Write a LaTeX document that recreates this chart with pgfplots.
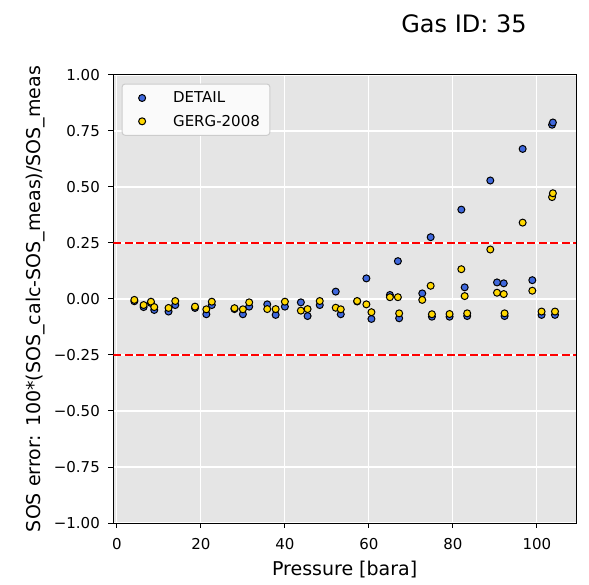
\documentclass[border=0pt]{standalone}
\usepackage{fontspec}
\setmainfont{DejaVu Sans}
\usepackage{pgfplots}
\pgfplotsset{compat=1.18}
\definecolor{bgc}{HTML}{E5E5E5}
\definecolor{detailc}{HTML}{3F68DC}
\definecolor{gergc}{HTML}{FFD700}
\definecolor{legedge}{HTML}{CCCCCC}
\definecolor{legfill}{HTML}{FAFAFA}
\begin{document}
\begin{tikzpicture}
\path[use as bounding box] (-113.3bp,-62bp) rectangle (475.7bp,523bp);
\begin{axis}[
  name=ax,
  scale only axis, width=462.7bp, height=448bp,
  xmin=-0.85, xmax=109.3, ymin=-1, ymax=1,
  axis background/.style={fill=bgc},
  grid=major, grid style={white, line width=1.1bp},
  axis line style={black, line width=1bp},
  tick align=outside, tick pos=left, major tick length=4.9bp,
  tick style={black, line width=1bp},
  xtick={0,20,40,60,80,100},
  xticklabels={0,20,40,60,80,100},
  ytick={-1,-0.75,-0.5,-0.25,0,0.25,0.5,0.75,1},
  yticklabels={−1.00,−0.75,−0.50,−0.25,0.00,0.25,0.50,0.75,1.00},
  ticklabel style={font=\fontsize{15bp}{18bp}\selectfont, inner sep=0pt},
  xticklabel style={anchor=north, yshift=-10.4bp},
  yticklabel style={anchor=east, xshift=-8.4bp},
  xlabel={Pressure [bara]},
  ylabel={SOS error: 100*(SOS\_calc-SOS\_meas)/SOS\_meas},
  every axis x label/.style={at={(axis description cs:0.5,0)}, anchor=base, yshift=-52bp, font=\fontsize{19bp}{23bp}\selectfont},
  every axis y label/.style={at={(axis description cs:-0.1584,0.5)}, rotate=90, anchor=base, font=\fontsize{19bp}{23bp}\selectfont},
  legend style={at={(0.018,0.981)}, anchor=north west, draw=legedge, fill=legfill,
    rounded corners=3bp, line width=1bp, inner xsep=10bp, inner ysep=6bp,
    row sep=7.3bp, column sep=21bp, font=\fontsize{15bp}{18bp}\selectfont,
    nodes={inner sep=0pt}},
  legend cell align=left,
  legend image code/.code={\path[draw=none, fill=none] (0bp,-8bp) rectangle (20bp,8bp); \draw[#1] plot coordinates {(10bp,0bp)};},
]
\addplot[only marks, mark=*, mark size=3.5bp, mark options={draw=black, fill=detailc, line width=1bp}] coordinates {
(4.16,-0.010) (6.37,-0.036) (8.12,-0.018) (8.9,-0.049) (12.3,-0.056) (13.9,-0.027)
(18.6,-0.040) (21.3,-0.068) (22.6,-0.027) (28.0,-0.045) (30.0,-0.068) (31.5,-0.034)
(35.8,-0.024) (37.8,-0.071) (40.0,-0.034) (43.8,-0.015) (45.4,-0.076) (48.3,-0.027)
(52.1,0.033) (53.3,-0.068) (57.2,-0.011) (59.4,0.092) (60.6,-0.089) (65.0,0.018)
(66.9,0.169) (67.2,-0.086) (72.7,0.025) (74.7,0.276) (75.0,-0.079) (79.2,-0.079)
(82.0,0.399) (82.8,0.052) (83.4,-0.076) (88.9,0.529) (90.5,0.074) (92.1,0.070)
(92.3,-0.076) (96.6,0.670) (98.9,0.084) (101.1,-0.071) (103.6,0.778) (103.8,0.788)
(104.3,-0.071)
};
\addlegendentry{DETAIL}
\addplot[only marks, mark=*, mark size=3.5bp, mark options={draw=black, fill=gergc, line width=1bp}] coordinates {
(4.16,-0.004) (6.37,-0.027) (8.12,-0.012) (8.9,-0.036) (12.3,-0.040) (13.9,-0.009)
(18.6,-0.034) (21.3,-0.046) (22.6,-0.012) (28.0,-0.041) (30.0,-0.046) (31.5,-0.015)
(35.8,-0.045) (37.8,-0.045) (40.0,-0.012) (43.8,-0.052) (45.4,-0.045) (48.3,-0.009)
(52.1,-0.039) (53.3,-0.046) (57.2,-0.009) (59.4,-0.024) (60.6,-0.059) (65.0,0.008)
(66.9,0.008) (67.2,-0.064) (72.7,-0.004) (74.7,0.059) (75.0,-0.068) (79.2,-0.067)
(82.0,0.133) (82.8,0.013) (83.4,-0.064) (88.9,0.221) (90.5,0.028) (92.1,0.022)
(92.3,-0.064) (96.6,0.341) (98.9,0.037) (101.1,-0.056) (103.6,0.455) (103.8,0.472)
(104.3,-0.056)
};
\addlegendentry{GERG-2008}
\addplot[red, line width=2.2bp, dash pattern=on 8bp off 3.5bp, forget plot] coordinates {(-0.85,0.25) (109.3,0.25)};
\addplot[red, line width=2.2bp, dash pattern=on 8bp off 3.5bp, forget plot] coordinates {(-0.85,-0.25) (109.3,-0.25)};
\end{axis}
\node[font=\fontsize{24bp}{28bp}\selectfont, anchor=base] at (350.7bp,490bp) {Gas ID: 35};
\end{tikzpicture}
\end{document}
